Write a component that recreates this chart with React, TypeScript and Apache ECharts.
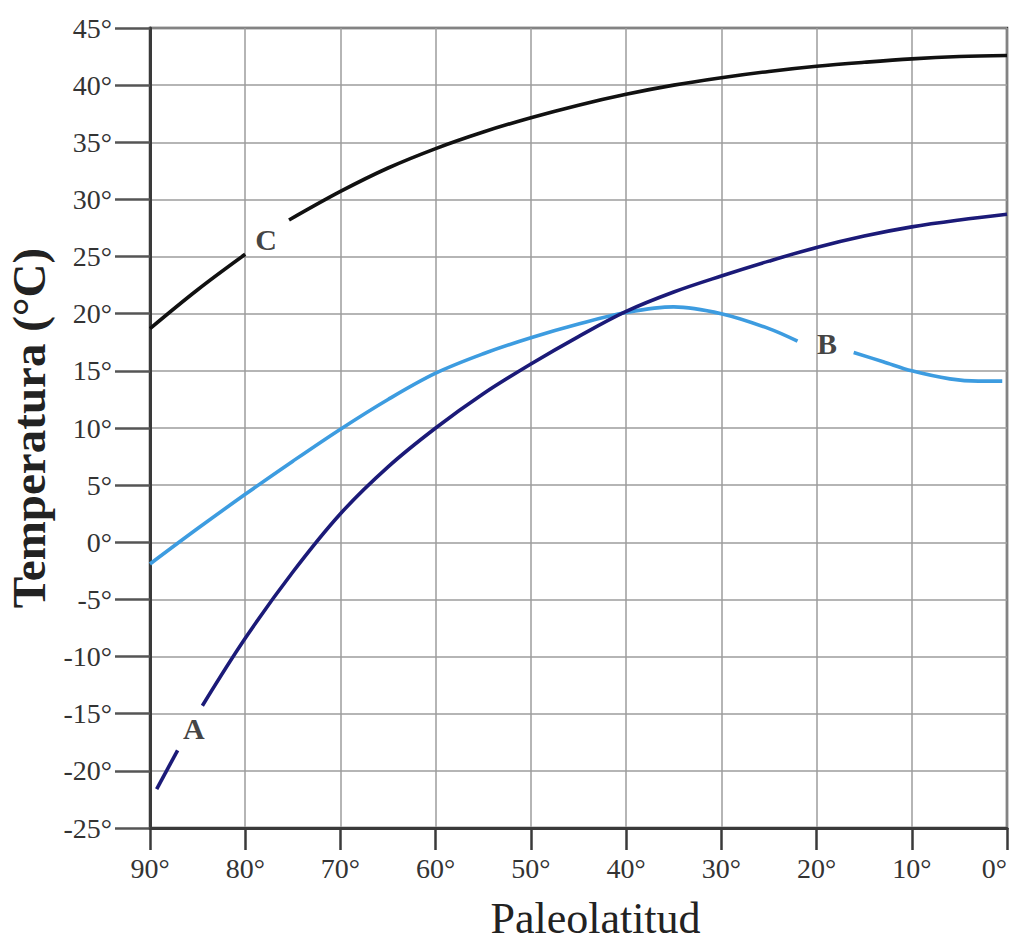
import React, { useEffect, useRef } from "react";
import * as echarts from "echarts";

// Latitude ticks (x) and temperature ticks (y)
const latTicks = [90, 80, 70, 60, 50, 40, 30, 20, 10, 0];
const tempTicks = [-25, -20, -15, -10, -5, 0, 5, 10, 15, 20, 25, 30, 35, 40, 45];

// Curve A (navy) — two segments, broken by label "A"
const curveA1: [number, number][] = [
  [89.3, -21.6],
  [87.1, -18.2],
];
const curveA2: [number, number][] = [
  [84.5, -14.3],
  [80, -8.4],
  [75, -2.6],
  [70, 2.5],
  [65, 6.6],
  [60, 10.0],
  [55, 13.0],
  [50, 15.6],
  [45, 18.0],
  [40, 20.2],
  [35, 21.9],
  [30, 23.3],
  [25, 24.6],
  [20, 25.8],
  [15, 26.8],
  [10, 27.6],
  [5, 28.2],
  [0, 28.7],
];

// Curve B (light blue) — two segments, broken by label "B"
const curveB1: [number, number][] = [
  [90, -1.9],
  [85, 1.2],
  [80, 4.2],
  [75, 7.1],
  [70, 9.9],
  [65, 12.5],
  [60, 14.8],
  [55, 16.5],
  [50, 17.9],
  [45, 19.1],
  [40, 20.1],
  [35, 20.6],
  [30, 20.0],
  [25, 18.7],
  [22, 17.6],
];
const curveB2: [number, number][] = [
  [16.1, 16.6],
  [13, 15.8],
  [10, 15.0],
  [6, 14.3],
  [3, 14.1],
  [0.5, 14.1],
];

// Curve C (black) — two segments, broken by label "C"
const curveC1: [number, number][] = [
  [90, 18.7],
  [85, 22.1],
  [80, 25.2],
];
const curveC2: [number, number][] = [
  [75.4, 28.2],
  [70, 30.7],
  [65, 32.75],
  [60, 34.45],
  [55, 35.9],
  [50, 37.15],
  [45, 38.25],
  [40, 39.2],
  [35, 40.0],
  [30, 40.65],
  [25, 41.2],
  [20, 41.65],
  [15, 42.0],
  [10, 42.3],
  [5, 42.5],
  [0, 42.6],
];

// Curve labels
const curveLabels = [
  { name: "A", value: [85.4, -16.3] },
  { name: "B", value: [18.9, 17.4] },
  { name: "C", value: [77.8, 26.5] },
];

const FONT = "'Liberation Serif', 'Times New Roman', serif";
const AXIS_DARK = "#3a3a3a";
const GRID_GREY = "#9c9c9c";
const COLOR_A = "#1b1a78";
const COLOR_B = "#3d9ce0";
const COLOR_C = "#111111";

export default function App() {
  const ref = useRef<HTMLDivElement>(null);

  useEffect(() => {
    if (!ref.current) return;
    const chart = echarts.init(ref.current, undefined, { renderer: "svg" });

    const lineSeries = (data: [number, number][], color: string) => ({
      type: "line",
      data,
      smooth: 0.35,
      symbol: "none",
      lineStyle: { color, width: 3.6 },
      z: 3,
    });

    chart.setOption({
      animation: false,
      backgroundColor: "#ffffff",
      grid: {
        left: 150,
        right: 6,
        top: 28,
        bottom: 116,
        outerBoundsMode: "none",
        containLabel: false,
        show: true,
        borderColor: AXIS_DARK,
        borderWidth: 2.5,
        backgroundColor: "#ffffff",
      },
      xAxis: {
        type: "value",
        min: latTicks[latTicks.length - 1],
        max: latTicks[0],
        interval: 10,
        inverse: true,
        name: "Paleolatitud",
        nameLocation: "middle",
        nameGap: 71,
        nameTextStyle: {
          fontFamily: FONT,
          fontSize: 44,
          lineHeight: 38,
          color: "#222",
          padding: [0, 0, 0, 34],
        },
        axisLine: { show: true, onZero: false, lineStyle: { color: AXIS_DARK, width: 3 } },
        axisTick: { show: true, length: 22, lineStyle: { color: AXIS_DARK, width: 2.5 } },
        axisLabel: {
          formatter: "{value}°",
          fontFamily: FONT,
          fontSize: 28,
          color: "#333",
          margin: 26,
          alignMinLabel: "right",
        },
        splitLine: { show: true, lineStyle: { color: GRID_GREY, width: 1.5 } },
      },
      yAxis: {
        type: "value",
        min: tempTicks[0],
        max: tempTicks[tempTicks.length - 1],
        interval: 5,
        name: "Temperatura (°C)",
        nameLocation: "middle",
        nameRotate: 90,
        nameGap: 88,
        nameTextStyle: {
          fontFamily: FONT,
          fontSize: 47,
          fontWeight: "bold",
          color: "#222",
        },
        axisLine: { show: true, onZero: false, lineStyle: { color: AXIS_DARK, width: 3 } },
        axisTick: { show: true, length: 35, lineStyle: { color: "#555", width: 2.5 } },
        axisLabel: {
          formatter: "{value}°",
          fontFamily: FONT,
          fontSize: 28,
          color: "#333",
          margin: 38,
          padding: [0, 0, 8, 0],
        },
        splitLine: { show: true, lineStyle: { color: GRID_GREY, width: 1.5 } },
      },
      series: [
        lineSeries(curveC1, COLOR_C),
        lineSeries(curveC2, COLOR_C),
        lineSeries(curveB1, COLOR_B),
        lineSeries(curveB2, COLOR_B),
        lineSeries(curveA1, COLOR_A),
        lineSeries(curveA2, COLOR_A),
        {
          type: "scatter",
          data: curveLabels,
          symbolSize: 1,
          itemStyle: { color: "rgba(0,0,0,0)" },
          label: {
            show: true,
            position: "inside",
            formatter: "{b}",
            fontFamily: FONT,
            fontWeight: "bold",
            fontSize: 30,
            color: "#111",
          },
          z: 5,
        },
      ],
    });

    return () => chart.dispose();
  }, []);

  return (
    <div
      ref={ref}
      style={{ position: "fixed", left: 0, top: 0, width: 1013, height: 944, background: "#fff" }}
    />
  );
}
